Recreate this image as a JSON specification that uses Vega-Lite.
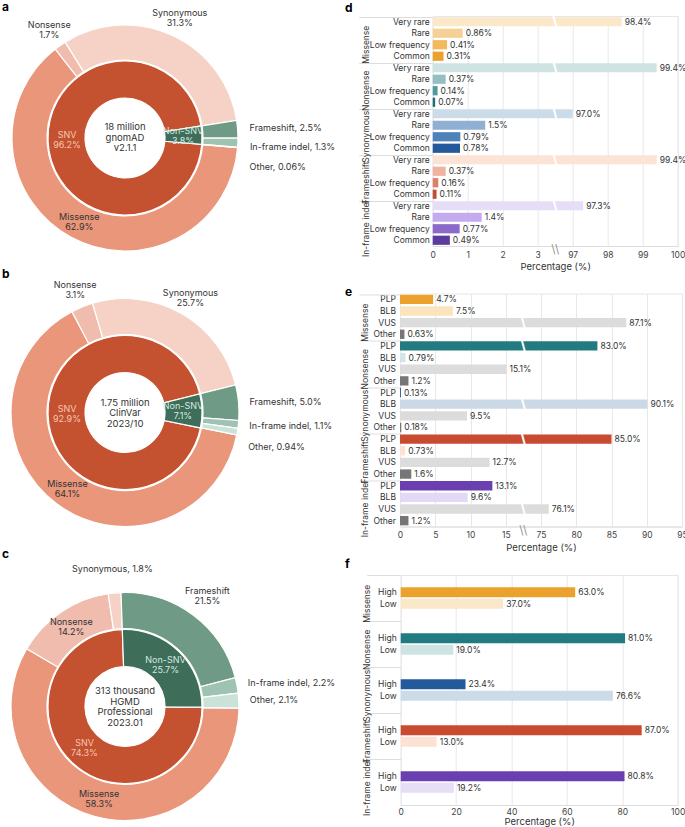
{
"$schema": "https://vega.github.io/schema/vega-lite/v6.json",
"padding": {"left": 2, "top": 0, "right": 0, "bottom": 0},
"config": {"font": "Inter", "view": {"stroke": "#e6e6e6"}, "title": {"fontSize": 12, "fontWeight": "bold", "anchor": "start", "frame": "group", "offset": 0, "color": "#000"}},
"datasets": {
"a_in": [{"t":"SNV","v":96.2,"txt":"SNV\n96.2%"},{"t":"Non-SNV","v":3.8,"txt":"Non-SNV\n3.8%"}],
"a_out": [{"t":"Missense","v":62.9,"txt":"Missense\n62.9%"},{"t":"Nonsense","v":1.7,"txt":"Nonsense\n1.7%"},{"t":"Synonymous","v":31.3,"txt":"Synonymous\n31.3%"},{"t":"Frameshift","v":2.5,"txt":"Frameshift, 2.5%"},{"t":"In-frame indel","v":1.3,"txt":"In-frame indel, 1.3%"},{"t":"Other","v":0.06,"txt":"Other, 0.06%"}],
"b_in": [{"t":"SNV","v":92.9,"txt":"SNV\n92.9%"},{"t":"Non-SNV","v":7.1,"txt":"Non-SNV\n7.1%"}],
"b_out": [{"t":"Missense","v":64.1,"txt":"Missense\n64.1%"},{"t":"Nonsense","v":3.1,"txt":"Nonsense\n3.1%"},{"t":"Synonymous","v":25.7,"txt":"Synonymous\n25.7%"},{"t":"Frameshift","v":5.0,"txt":"Frameshift, 5.0%"},{"t":"In-frame indel","v":1.1,"txt":"In-frame indel, 1.1%"},{"t":"Other","v":0.94,"txt":"Other, 0.94%"}],
"c_in": [{"t":"SNV","v":74.3,"txt":"SNV\n74.3%"},{"t":"Non-SNV","v":25.7,"txt":"Non-SNV\n25.7%"}],
"c_out": [{"t":"Missense","v":58.3,"txt":"Missense\n58.3%"},{"t":"Nonsense","v":14.2,"txt":"Nonsense\n14.2%"},{"t":"Synonymous","v":1.8,"txt":"Synonymous, 1.8%"},{"t":"Frameshift","v":21.5,"txt":"Frameshift\n21.5%"},{"t":"In-frame indel","v":2.2,"txt":"In-frame indel, 2.2%"},{"t":"Other","v":2.1,"txt":"Other, 2.1%"}],
"d": [
{"g":"Missense","l":"Very rare","v":98.4,"lab":"98.4%"},{"g":"Missense","l":"Rare","v":0.86,"lab":"0.86%"},{"g":"Missense","l":"Low frequency","v":0.41,"lab":"0.41%"},{"g":"Missense","l":"Common","v":0.31,"lab":"0.31%"},
{"g":"Nonsense","l":"Very rare","v":99.4,"lab":"99.4%"},{"g":"Nonsense","l":"Rare","v":0.37,"lab":"0.37%"},{"g":"Nonsense","l":"Low frequency","v":0.14,"lab":"0.14%"},{"g":"Nonsense","l":"Common","v":0.07,"lab":"0.07%"},
{"g":"Synonymous","l":"Very rare","v":97.0,"lab":"97.0%"},{"g":"Synonymous","l":"Rare","v":1.5,"lab":"1.5%"},{"g":"Synonymous","l":"Low frequency","v":0.79,"lab":"0.79%"},{"g":"Synonymous","l":"Common","v":0.78,"lab":"0.78%"},
{"g":"Frameshift","l":"Very rare","v":99.4,"lab":"99.4%"},{"g":"Frameshift","l":"Rare","v":0.37,"lab":"0.37%"},{"g":"Frameshift","l":"Low frequency","v":0.16,"lab":"0.16%"},{"g":"Frameshift","l":"Common","v":0.11,"lab":"0.11%"},
{"g":"In-frame indel","l":"Very rare","v":97.3,"lab":"97.3%"},{"g":"In-frame indel","l":"Rare","v":1.4,"lab":"1.4%"},{"g":"In-frame indel","l":"Low frequency","v":0.77,"lab":"0.77%"},{"g":"In-frame indel","l":"Common","v":0.49,"lab":"0.49%"}],
"e": [
{"g":"Missense","l":"PLP","v":4.7,"lab":"4.7%"},{"g":"Missense","l":"BLB","v":7.5,"lab":"7.5%"},{"g":"Missense","l":"VUS","v":87.1,"lab":"87.1%"},{"g":"Missense","l":"Other","v":0.63,"lab":"0.63%"},
{"g":"Nonsense","l":"PLP","v":83.0,"lab":"83.0%"},{"g":"Nonsense","l":"BLB","v":0.79,"lab":"0.79%"},{"g":"Nonsense","l":"VUS","v":15.1,"lab":"15.1%"},{"g":"Nonsense","l":"Other","v":1.2,"lab":"1.2%"},
{"g":"Synonymous","l":"PLP","v":0.13,"lab":"0.13%"},{"g":"Synonymous","l":"BLB","v":90.1,"lab":"90.1%"},{"g":"Synonymous","l":"VUS","v":9.5,"lab":"9.5%"},{"g":"Synonymous","l":"Other","v":0.18,"lab":"0.18%"},
{"g":"Frameshift","l":"PLP","v":85.0,"lab":"85.0%"},{"g":"Frameshift","l":"BLB","v":0.73,"lab":"0.73%"},{"g":"Frameshift","l":"VUS","v":12.7,"lab":"12.7%"},{"g":"Frameshift","l":"Other","v":1.6,"lab":"1.6%"},
{"g":"In-frame indel","l":"PLP","v":13.1,"lab":"13.1%"},{"g":"In-frame indel","l":"BLB","v":9.6,"lab":"9.6%"},{"g":"In-frame indel","l":"VUS","v":76.1,"lab":"76.1%"},{"g":"In-frame indel","l":"Other","v":1.2,"lab":"1.2%"}],
"f": [
{"g":"Missense","l":"High","v":63.0,"lab":"63.0%"},{"g":"Missense","l":"Low","v":37.0,"lab":"37.0%"},
{"g":"Nonsense","l":"High","v":81.0,"lab":"81.0%"},{"g":"Nonsense","l":"Low","v":19.0,"lab":"19.0%"},
{"g":"Synonymous","l":"High","v":23.4,"lab":"23.4%"},{"g":"Synonymous","l":"Low","v":76.6,"lab":"76.6%"},
{"g":"Frameshift","l":"High","v":87.0,"lab":"87.0%"},{"g":"Frameshift","l":"Low","v":13.0,"lab":"13.0%"},
{"g":"In-frame indel","l":"High","v":80.8,"lab":"80.8%"},{"g":"In-frame indel","l":"Low","v":19.2,"lab":"19.2%"}]
},
"spacing": -4.5,
"resolve": {"scale": {"color": "independent", "theta": "independent"}},
"vconcat": [
{"hconcat": [
{"width": 246, "height": 244, "view": {"stroke": null}, "title": {"text": "a", "offset": -5},
 "resolve": {"scale": {"theta": "independent"}},
 "layer": [
  {"data": {"name": "a_in"}, "transform": [{"calculate": "indexof(['Non-SNV','SNV'], datum.t)", "as": "o"}],
   "mark": {"type": "arc", "innerRadius": 40, "outerRadius": 77, "stroke": "#fff", "strokeWidth": 1.2},
   "encoding": {"theta": {"field": "v", "type": "quantitative", "stack": true, "scale": {"range": [1.4137, 7.6969]}}, "order": {"field": "o"},
    "color": {"field": "t", "type": "nominal", "legend": null, "scale": {"domain": ["SNV","Non-SNV","Missense","Nonsense","Synonymous","Frameshift","In-frame indel","Other"], "range": ["#c4512f","#3e6d59","#e9967b","#efbcad","#f6d1c5","#6e9a86","#9fc3b3","#cbe2d8"]}}}},
  {"data": {"name": "a_in"}, "transform": [{"calculate": "indexof(['Non-SNV','SNV'], datum.t)", "as": "o"}],
   "mark": {"type": "text", "radius": 58, "lineBreak": "\n", "fontSize": 9, "lineHeight": 10, "dy": -5},
   "encoding": {"theta": {"field": "v", "type": "quantitative", "stack": true, "scale": {"range": [1.4137, 7.6969]}}, "order": {"field": "o"}, "text": {"field": "txt"},
    "color": {"condition": {"test": "datum.t == 'SNV'", "value": "#f6c6b2"}, "value": "#d3ebe1"}}},
  {"data": {"name": "a_out"}, "transform": [{"calculate": "indexof(['Frameshift','In-frame indel','Other','Missense','Nonsense','Synonymous'], datum.t)", "as": "o"}],
   "mark": {"type": "arc", "innerRadius": 78, "outerRadius": 113, "stroke": "#fff", "strokeWidth": 1.2},
   "encoding": {"theta": {"field": "v", "type": "quantitative", "stack": true, "scale": {"range": [1.4137, 7.6969]}}, "order": {"field": "o"},
    "color": {"field": "t", "type": "nominal", "legend": null, "scale": {"domain": ["SNV","Non-SNV","Missense","Nonsense","Synonymous","Frameshift","In-frame indel","Other"], "range": ["#c4512f","#3e6d59","#e9967b","#efbcad","#f6d1c5","#6e9a86","#9fc3b3","#cbe2d8"]}}}},
  {"data": {"name": "a_out"}, "transform": [{"calculate": "indexof(['Frameshift','In-frame indel','Other','Missense','Nonsense','Synonymous'], datum.t)", "as": "o"}],
   "mark": {"type": "text", "radius": 96, "lineBreak": "\n", "fontSize": 9, "lineHeight": 10, "dy": -5, "color": "#333"},
   "encoding": {"theta": {"field": "v", "type": "quantitative", "stack": true, "scale": {"range": [1.4137, 7.6969]}}, "order": {"field": "o"},
    "text": {"condition": {"test": "datum.t == 'Missense'", "field": "txt"}, "value": ""}}},
  {"data": {"name": "a_out"}, "transform": [{"calculate": "indexof(['Frameshift','In-frame indel','Other','Missense','Nonsense','Synonymous'], datum.t)", "as": "o"}],
   "mark": {"type": "text", "radius": 132, "lineBreak": "\n", "fontSize": 9, "lineHeight": 10, "dy": -5, "color": "#333"},
   "encoding": {"theta": {"field": "v", "type": "quantitative", "stack": true, "scale": {"range": [1.4137, 7.6969]}}, "order": {"field": "o"},
    "text": {"condition": {"test": "datum.t == 'Nonsense' || datum.t == 'Synonymous'", "field": "txt"}, "value": ""}}},
  {"data": {"name": "a_out"}, "transform": [{"calculate": "indexof(['Frameshift','In-frame indel','Other','Missense','Nonsense','Synonymous'], datum.t)", "as": "o"}],
   "mark": {"type": "text", "radius": 125, "align": "left", "fontSize": 9, "color": "#333", "dy": {"expr": "datum.t == 'Other' ? 18 : datum.t == 'In-frame indel' ? 4 : 0"}},
   "encoding": {"theta": {"field": "v", "type": "quantitative", "stack": true, "scale": {"range": [1.4137, 7.6969]}}, "order": {"field": "o"},
    "text": {"condition": {"test": "datum.t == 'Frameshift' || datum.t == 'In-frame indel' || datum.t == 'Other'", "field": "txt"}, "value": ""}}},
  {"data": {"values": [{"c": "18 million\ngnomAD\nv2.1.1"}]},
   "mark": {"type": "text", "lineBreak": "\n", "fontSize": 9.5, "lineHeight": 10.5, "dy": -11, "color": "#333"},
   "encoding": {"text": {"field": "c"}}}
 ]},
{"width": 245, "height": 230, "title": {"text": "d", "dx": -87.7, "offset": 0}, "data": {"name": "d"},
 "transform": [{"calculate": "datum.g + '|' + datum.l", "as": "k"}],
 "resolve": {"axis": {"y": "independent", "x": "independent"}},
 "layer": [
  {"mark": {"type": "bar"},
   "encoding": {
    "y": {"field": "k", "type": "nominal", "scale": {"domain": ["Missense|Very rare","Missense|Rare","Missense|Low frequency","Missense|Common","Nonsense|Very rare","Nonsense|Rare","Nonsense|Low frequency","Nonsense|Common","Synonymous|Very rare","Synonymous|Rare","Synonymous|Low frequency","Synonymous|Common","Frameshift|Very rare","Frameshift|Rare","Frameshift|Low frequency","Frameshift|Common","In-frame indel|Very rare","In-frame indel|Rare","In-frame indel|Low frequency","In-frame indel|Common"], "paddingInner": 0.2, "paddingOuter": 0.1},
     "axis": {"title": null, "labelExpr": "split(datum.value, '|')[1]", "ticks": false, "domain": false, "grid": false, "labelPadding": 3.4, "labelFontSize": 8.5, "labelColor": "#333"}},
    "x": {"field": "v", "type": "quantitative", "scale": {"domain": [0, 3.5, 96.5, 100], "range": [0, 122.5, 122.5, 245], "nice": false, "zero": false},
     "axis": {"values": [0,1,2,3,97,98,99,100], "title": "Percentage (%)", "grid": true, "gridColor": "#e8e8e8", "domainColor": "#dddddd", "ticks": false, "labelPadding": 4, "labelFontSize": 8.5, "labelColor": "#444", "labelFlush": false, "titleFontSize": 9.5, "titleFontWeight": "normal", "titleColor": "#333", "titlePadding": 3}},
    "color": {"field": "k", "type": "nominal", "legend": null, "scale": {"domain": ["Missense|Very rare","Missense|Rare","Missense|Low frequency","Missense|Common","Nonsense|Very rare","Nonsense|Rare","Nonsense|Low frequency","Nonsense|Common","Synonymous|Very rare","Synonymous|Rare","Synonymous|Low frequency","Synonymous|Common","Frameshift|Very rare","Frameshift|Rare","Frameshift|Low frequency","Frameshift|Common","In-frame indel|Very rare","In-frame indel|Rare","In-frame indel|Low frequency","In-frame indel|Common"], "range": ["#fbe8c9","#f7d095","#f2ba5c","#eba22c","#cfe3e3","#93bfc2","#51999d","#216d74","#ccdbe8","#90afd2","#4f82b8","#245a9b","#fde3d6","#f0b3a2","#dc7f6b","#c34d34","#e6ddf7","#c4aaee","#8c6ac9","#5c3b9f"]}}}},
  {"mark": {"type": "text", "align": "left", "baseline": "middle", "dx": 3, "fontSize": 8.5, "color": "#333"},
   "encoding": {
    "y": {"field": "k", "type": "nominal", "axis": {"orient": "left", "title": null, "values": ["Missense|Very rare","Nonsense|Very rare","Synonymous|Very rare","Frameshift|Very rare","In-frame indel|Very rare"], "bandPosition": 0, "tickSize": 74, "tickColor": "#dddddd", "domain": false, "grid": false, "labelExpr": "split(datum.value, '|')[0]", "labelAngle": -90, "labelAlign": "center", "labelBaseline": "middle", "labelOffset": 23, "labelPadding": -6.3, "labelFontSize": 8.5, "labelColor": "#333", "labelOverlap": false}},
    "x": {"field": "v", "type": "quantitative", "axis": null},
    "text": {"field": "lab"}}},
  {"transform": [{"filter": "datum.v > 50"}],
   "mark": {"type": "text", "text": "\\", "color": "#ffffff", "fontSize": 15, "fontWeight": "bold", "baseline": "middle"},
   "encoding": {"y": {"field": "k", "type": "nominal", "axis": null}, "x": {"datum": 3.5, "type": "quantitative", "axis": null}}},
  {"transform": [{"filter": "datum.k == 'In-frame indel|Common'"}],
   "mark": {"type": "text", "text": "\\\\", "color": "#999999", "fontSize": 12, "dy": 9, "baseline": "middle"},
   "encoding": {"y": {"field": "k", "type": "nominal", "axis": null}, "x": {"datum": 3.5, "type": "quantitative", "axis": null}}}
 ]}
], "spacing": 184.7, "bounds": "flush", "resolve": {"scale": {"color": "independent", "theta": "independent"}}},
{"hconcat": [
{"width": 246, "height": 238, "view": {"stroke": null}, "title": {"text": "b", "offset": 0},
 "resolve": {"scale": {"theta": "independent"}},
 "layer": [
  {"data": {"name": "b_in"}, "transform": [{"calculate": "indexof(['Non-SNV','SNV'], datum.t)", "as": "o"}],
   "mark": {"type": "arc", "innerRadius": 40, "outerRadius": 77, "stroke": "#fff", "strokeWidth": 1.2},
   "encoding": {"theta": {"field": "v", "type": "quantitative", "stack": true, "scale": {"range": [1.3265, 7.6097]}}, "order": {"field": "o"},
    "color": {"field": "t", "type": "nominal", "legend": null, "scale": {"domain": ["SNV","Non-SNV","Missense","Nonsense","Synonymous","Frameshift","In-frame indel","Other"], "range": ["#c4512f","#3e6d59","#e9967b","#efbcad","#f6d1c5","#6e9a86","#9fc3b3","#cbe2d8"]}}}},
  {"data": {"name": "b_in"}, "transform": [{"calculate": "indexof(['Non-SNV','SNV'], datum.t)", "as": "o"}],
   "mark": {"type": "text", "radius": 58, "lineBreak": "\n", "fontSize": 9, "lineHeight": 10, "dy": -5},
   "encoding": {"theta": {"field": "v", "type": "quantitative", "stack": true, "scale": {"range": [1.3265, 7.6097]}}, "order": {"field": "o"}, "text": {"field": "txt"},
    "color": {"condition": {"test": "datum.t == 'SNV'", "value": "#f6c6b2"}, "value": "#d3ebe1"}}},
  {"data": {"name": "b_out"}, "transform": [{"calculate": "indexof(['Frameshift','In-frame indel','Other','Missense','Nonsense','Synonymous'], datum.t)", "as": "o"}],
   "mark": {"type": "arc", "innerRadius": 78, "outerRadius": 114, "stroke": "#fff", "strokeWidth": 1.2},
   "encoding": {"theta": {"field": "v", "type": "quantitative", "stack": true, "scale": {"range": [1.3265, 7.6097]}}, "order": {"field": "o"},
    "color": {"field": "t", "type": "nominal", "legend": null, "scale": {"domain": ["SNV","Non-SNV","Missense","Nonsense","Synonymous","Frameshift","In-frame indel","Other"], "range": ["#c4512f","#3e6d59","#e9967b","#efbcad","#f6d1c5","#6e9a86","#9fc3b3","#cbe2d8"]}}}},
  {"data": {"name": "b_out"}, "transform": [{"calculate": "indexof(['Frameshift','In-frame indel','Other','Missense','Nonsense','Synonymous'], datum.t)", "as": "o"}],
   "mark": {"type": "text", "radius": 96, "lineBreak": "\n", "fontSize": 9, "lineHeight": 10, "dy": -5, "color": "#333"},
   "encoding": {"theta": {"field": "v", "type": "quantitative", "stack": true, "scale": {"range": [1.3265, 7.6097]}}, "order": {"field": "o"},
    "text": {"condition": {"test": "datum.t == 'Missense'", "field": "txt"}, "value": ""}}},
  {"data": {"name": "b_out"}, "transform": [{"calculate": "indexof(['Frameshift','In-frame indel','Other','Missense','Nonsense','Synonymous'], datum.t)", "as": "o"}],
   "mark": {"type": "text", "radius": 132, "lineBreak": "\n", "fontSize": 9, "lineHeight": 10, "dy": -5, "color": "#333"},
   "encoding": {"theta": {"field": "v", "type": "quantitative", "stack": true, "scale": {"range": [1.3265, 7.6097]}}, "order": {"field": "o"},
    "text": {"condition": {"test": "datum.t == 'Nonsense' || datum.t == 'Synonymous'", "field": "txt"}, "value": ""}}},
  {"data": {"name": "b_out"}, "transform": [{"calculate": "indexof(['Frameshift','In-frame indel','Other','Missense','Nonsense','Synonymous'], datum.t)", "as": "o"}],
   "mark": {"type": "text", "radius": 125, "align": "left", "fontSize": 9, "color": "#333", "dy": {"expr": "datum.t == 'Other' ? 14 : 0"}},
   "encoding": {"theta": {"field": "v", "type": "quantitative", "stack": true, "scale": {"range": [1.3265, 7.6097]}}, "order": {"field": "o"},
    "text": {"condition": {"test": "datum.t == 'Frameshift' || datum.t == 'In-frame indel' || datum.t == 'Other'", "field": "txt"}, "value": ""}}},
  {"data": {"values": [{"c": "1.75 million\nClinVar\n2023/10"}]},
   "mark": {"type": "text", "lineBreak": "\n", "fontSize": 9.5, "lineHeight": 10.5, "dy": -10, "color": "#333"},
   "encoding": {"text": {"field": "c"}}}
 ]},
{"width": 282, "height": 233, "title": {"text": "e", "dx": -55, "offset": -5}, "data": {"name": "e"},
 "transform": [{"calculate": "datum.g + '|' + datum.l", "as": "k"}],
 "resolve": {"axis": {"y": "independent", "x": "independent"}},
 "layer": [
  {"mark": {"type": "bar"},
   "encoding": {
    "y": {"field": "k", "type": "nominal", "scale": {"domain": ["Missense|PLP","Missense|BLB","Missense|VUS","Missense|Other","Nonsense|PLP","Nonsense|BLB","Nonsense|VUS","Nonsense|Other","Synonymous|PLP","Synonymous|BLB","Synonymous|VUS","Synonymous|Other","Frameshift|PLP","Frameshift|BLB","Frameshift|VUS","Frameshift|Other","In-frame indel|PLP","In-frame indel|BLB","In-frame indel|VUS","In-frame indel|Other"], "paddingInner": 0.2, "paddingOuter": 0.1},
     "axis": {"title": null, "labelExpr": "split(datum.value, '|')[1]", "ticks": false, "domain": false, "grid": false, "labelPadding": 4.5, "labelFontSize": 8.5, "labelColor": "#333"}},
    "x": {"field": "v", "type": "quantitative", "scale": {"domain": [0, 17.5, 72.5, 95], "range": [0, 123.4, 123.4, 282], "nice": false, "zero": false},
     "axis": {"values": [0,5,10,15,75,80,85,90,95], "title": "Percentage (%)", "grid": true, "gridColor": "#e8e8e8", "domainColor": "#dddddd", "ticks": false, "labelPadding": 4, "labelFontSize": 8.5, "labelColor": "#444", "labelFlush": false, "titleFontSize": 9.5, "titleFontWeight": "normal", "titleColor": "#333", "titlePadding": 3}},
    "color": {"field": "k", "type": "nominal", "legend": null, "scale": {"domain": ["Missense|PLP","Missense|BLB","Missense|VUS","Missense|Other","Nonsense|PLP","Nonsense|BLB","Nonsense|VUS","Nonsense|Other","Synonymous|PLP","Synonymous|BLB","Synonymous|VUS","Synonymous|Other","Frameshift|PLP","Frameshift|BLB","Frameshift|VUS","Frameshift|Other","In-frame indel|PLP","In-frame indel|BLB","In-frame indel|VUS","In-frame indel|Other"], "range": ["#eba22c","#fbe3bb","#dcdcdc","#767676","#237b82","#d3e5e8","#dcdcdc","#767676","#245a9b","#cbd9e7","#dcdcdc","#767676","#c84b30","#fde1d3","#dcdcdc","#767676","#6a40b0","#e3d9f7","#dcdcdc","#767676"]}}}},
  {"mark": {"type": "text", "align": "left", "baseline": "middle", "dx": 3, "fontSize": 8.5, "color": "#333"},
   "encoding": {
    "y": {"field": "k", "type": "nominal", "axis": {"orient": "left", "title": null, "values": ["Missense|PLP","Nonsense|PLP","Synonymous|PLP","Frameshift|PLP","In-frame indel|PLP"], "bandPosition": 0, "tickSize": 41, "tickColor": "#dddddd", "domain": false, "grid": false, "labelExpr": "split(datum.value, '|')[0]", "labelAngle": -90, "labelAlign": "center", "labelBaseline": "middle", "labelOffset": 23.3, "labelPadding": -5.7, "labelFontSize": 8.5, "labelColor": "#333", "labelOverlap": false}},
    "x": {"field": "v", "type": "quantitative", "axis": null},
    "text": {"field": "lab"}}},
  {"transform": [{"filter": "datum.v > 50"}],
   "mark": {"type": "text", "text": "\\", "color": "#ffffff", "fontSize": 15, "fontWeight": "bold", "baseline": "middle"},
   "encoding": {"y": {"field": "k", "type": "nominal", "axis": null}, "x": {"datum": 17.5, "type": "quantitative", "axis": null}}},
  {"transform": [{"filter": "datum.k == 'In-frame indel|Other'"}],
   "mark": {"type": "text", "text": "\\\\", "color": "#999999", "fontSize": 12, "dy": 9, "baseline": "middle"},
   "encoding": {"y": {"field": "k", "type": "nominal", "axis": null}, "x": {"datum": 17.5, "type": "quantitative", "axis": null}}}
 ]}
], "spacing": 152, "bounds": "flush", "resolve": {"scale": {"color": "independent", "theta": "independent"}}},
{"hconcat": [
{"width": 246, "height": 263, "view": {"stroke": null}, "title": {"text": "c"},
 "resolve": {"scale": {"theta": "independent"}},
 "layer": [
  {"data": {"name": "c_in"}, "transform": [{"calculate": "indexof(['Non-SNV','SNV'], datum.t)", "as": "o"}],
   "mark": {"type": "arc", "innerRadius": 40, "outerRadius": 77, "stroke": "#fff", "strokeWidth": 1.2},
   "encoding": {"theta": {"field": "v", "type": "quantitative", "stack": true, "scale": {"range": [-0.0349, 6.2483]}}, "order": {"field": "o"},
    "color": {"field": "t", "type": "nominal", "legend": null, "scale": {"domain": ["SNV","Non-SNV","Missense","Nonsense","Synonymous","Frameshift","In-frame indel","Other"], "range": ["#c4512f","#3e6d59","#e9967b","#efbcad","#f6d1c5","#6e9a86","#9fc3b3","#cbe2d8"]}}}},
  {"data": {"name": "c_in"}, "transform": [{"calculate": "indexof(['Non-SNV','SNV'], datum.t)", "as": "o"}],
   "mark": {"type": "text", "radius": 58, "lineBreak": "\n", "fontSize": 9, "lineHeight": 10, "dy": -5},
   "encoding": {"theta": {"field": "v", "type": "quantitative", "stack": true, "scale": {"range": [-0.0349, 6.2483]}}, "order": {"field": "o"}, "text": {"field": "txt"},
    "color": {"condition": {"test": "datum.t == 'SNV'", "value": "#f6c6b2"}, "value": "#d3ebe1"}}},
  {"data": {"name": "c_out"}, "transform": [{"calculate": "indexof(['Frameshift','In-frame indel','Other','Missense','Nonsense','Synonymous'], datum.t)", "as": "o"}],
   "mark": {"type": "arc", "innerRadius": 78, "outerRadius": 114, "stroke": "#fff", "strokeWidth": 1.2},
   "encoding": {"theta": {"field": "v", "type": "quantitative", "stack": true, "scale": {"range": [-0.0349, 6.2483]}}, "order": {"field": "o"},
    "color": {"field": "t", "type": "nominal", "legend": null, "scale": {"domain": ["SNV","Non-SNV","Missense","Nonsense","Synonymous","Frameshift","In-frame indel","Other"], "range": ["#c4512f","#3e6d59","#e9967b","#efbcad","#f6d1c5","#6e9a86","#9fc3b3","#cbe2d8"]}}}},
  {"data": {"name": "c_out"}, "transform": [{"calculate": "indexof(['Frameshift','In-frame indel','Other','Missense','Nonsense','Synonymous'], datum.t)", "as": "o"}],
   "mark": {"type": "text", "radius": 96, "lineBreak": "\n", "fontSize": 9, "lineHeight": 10, "dy": -5, "color": "#333"},
   "encoding": {"theta": {"field": "v", "type": "quantitative", "stack": true, "scale": {"range": [-0.0349, 6.2483]}}, "order": {"field": "o"},
    "text": {"condition": {"test": "datum.t == 'Missense' || datum.t == 'Nonsense'", "field": "txt"}, "value": ""}}},
  {"data": {"name": "c_out"}, "transform": [{"calculate": "indexof(['Frameshift','In-frame indel','Other','Missense','Nonsense','Synonymous'], datum.t)", "as": "o"}],
   "mark": {"type": "text", "radius": 138, "lineBreak": "\n", "fontSize": 9, "lineHeight": 10, "color": "#333", "dy": {"expr": "datum.t == 'Frameshift' ? -5 : 0"}},
   "encoding": {"theta": {"field": "v", "type": "quantitative", "stack": true, "scale": {"range": [-0.0349, 6.2483]}}, "order": {"field": "o"},
    "text": {"condition": {"test": "datum.t == 'Frameshift' || datum.t == 'Synonymous'", "field": "txt"}, "value": ""}}},
  {"data": {"name": "c_out"}, "transform": [{"calculate": "indexof(['Frameshift','In-frame indel','Other','Missense','Nonsense','Synonymous'], datum.t)", "as": "o"}],
   "mark": {"type": "text", "radius": 125, "align": "left", "fontSize": 9, "color": "#333"},
   "encoding": {"theta": {"field": "v", "type": "quantitative", "stack": true, "scale": {"range": [-0.0349, 6.2483]}}, "order": {"field": "o"},
    "text": {"condition": {"test": "datum.t == 'In-frame indel' || datum.t == 'Other'", "field": "txt"}, "value": ""}}},
  {"data": {"values": [{"c": "313 thousand\nHGMD\nProfessional\n2023.01"}]},
   "mark": {"type": "text", "lineBreak": "\n", "fontSize": 9.5, "lineHeight": 10.5, "dy": -15.5, "color": "#333"},
   "encoding": {"text": {"field": "c"}}}
 ]},
{"width": 277, "height": 230, "title": {"text": "f", "dx": -55.7, "offset": 4}, "data": {"name": "f"},
 "transform": [{"calculate": "datum.g + '|' + datum.l", "as": "k"}],
 "resolve": {"axis": {"y": "independent", "x": "independent"}},
 "layer": [
  {"mark": {"type": "bar"},
   "encoding": {
    "y": {"field": "k", "type": "nominal", "scale": {"domain": ["Missense|_1","Missense|High","Missense|Low","Missense|_2","Nonsense|_1","Nonsense|High","Nonsense|Low","Nonsense|_2","Synonymous|_1","Synonymous|High","Synonymous|Low","Synonymous|_2","Frameshift|_1","Frameshift|High","Frameshift|Low","Frameshift|_2","In-frame indel|_1","In-frame indel|High","In-frame indel|Low","In-frame indel|_2"], "paddingInner": 0.14, "paddingOuter": 0.07},
     "axis": {"title": null, "labelExpr": "indexof(datum.value, '|_') >= 0 ? '' : split(datum.value, '|')[1]", "ticks": false, "domain": false, "grid": false, "labelPadding": 4.5, "labelFontSize": 8.5, "labelColor": "#333"}},
    "x": {"field": "v", "type": "quantitative", "scale": {"domain": [0, 100], "nice": false, "zero": false},
     "axis": {"values": [0,20,40,60,80,100], "title": "Percentage (%)", "grid": true, "gridColor": "#e8e8e8", "domainColor": "#dddddd", "ticks": false, "labelPadding": 2, "labelFontSize": 8.5, "labelColor": "#444", "labelFlush": false, "titleFontSize": 9.5, "titleFontWeight": "normal", "titleColor": "#333", "titlePadding": 1}},
    "color": {"field": "k", "type": "nominal", "legend": null, "scale": {"domain": ["Missense|High","Missense|Low","Nonsense|High","Nonsense|Low","Synonymous|High","Synonymous|Low","Frameshift|High","Frameshift|Low","In-frame indel|High","In-frame indel|Low"], "range": ["#eba22c","#fbe8c9","#237b82","#cfe3e3","#245a9b","#ccdbe8","#c84b30","#fde1d3","#6a40b0","#e6ddf7"]}}}},
  {"mark": {"type": "text", "align": "left", "baseline": "middle", "dx": 3, "fontSize": 8.5, "color": "#333"},
   "encoding": {
    "y": {"field": "k", "type": "nominal", "axis": {"orient": "left", "title": null, "values": ["Missense|_1","Nonsense|_1","Synonymous|_1","Frameshift|_1","In-frame indel|_1"], "bandPosition": 0, "tickSize": 34, "tickColor": "#dddddd", "domain": false, "grid": false, "labelExpr": "split(datum.value, '|')[0]", "labelAngle": -90, "labelAlign": "center", "labelBaseline": "middle", "labelOffset": 23, "labelPadding": 0.7, "labelFontSize": 8.5, "labelColor": "#333", "labelOverlap": false}},
    "x": {"field": "v", "type": "quantitative", "axis": null},
    "text": {"field": "lab"}}}
 ]}
], "spacing": 152.7, "bounds": "flush", "resolve": {"scale": {"color": "independent", "theta": "independent"}}}
]
}
